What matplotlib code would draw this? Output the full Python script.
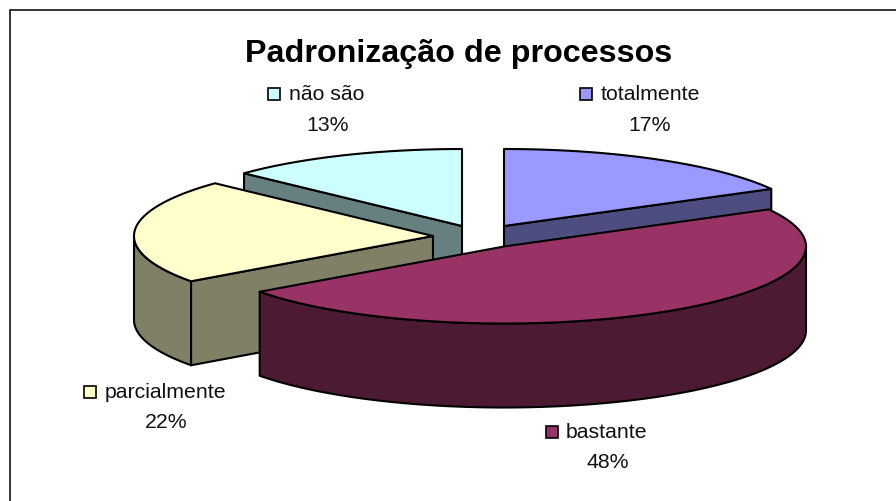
import numpy as np
import matplotlib
matplotlib.use("Agg")
import matplotlib.pyplot as plt
from matplotlib.patches import Polygon, Rectangle

plt.rcParams['font.family'] = ['Liberation Sans', 'DejaVu Sans']

# --- data ---
title = "Padronização de processos"
categories = ["totalmente", "bastante", "parcialmente", "não são"]
percent = [17, 48, 22, 13]

# --- style ---
top_colors = ["#9999FF", "#993366", "#FFFFCC", "#CCFFFF"]
wall_colors = ["#4D4D80", "#4D1A33", "#808066", "#668080"]

# --- layout (pixels) ---
W, H = 896, 501
RX = [305, 302, 299, 299]
RY, DEPTH = 77, 84
apex_x = [504, 504, 433, 462]
apex_y = [226, 246.5, 236, 226]
key_xy = [(580, 88), (546, 426), (84, 386), (268, 88)]
name_xy = [(601, 94), (566, 432), (105, 392.5), (289, 94)]
pct_xy = [(650, 125), (608, 462), (166, 422), (328, 125)]
KEY = 12
LW = 1.5

fig = plt.figure(figsize=(W / 100, H / 100), dpi=100)
ax = fig.add_axes([0, 0, 1, 1])
ax.set_xlim(0, W)
ax.set_ylim(H, 0)
ax.axis("off")

# chart frame (only left and top edges fall inside the picture)
ax.plot([10, 10, W], [H, 10, 10], color="black", lw=1.1, solid_joinstyle="miter", zorder=1)

ax.text(458.5, 53.5, title, ha="center", va="center", fontsize=23.2, fontweight="bold", zorder=20)

# slice angles, clockwise from 12 o'clock
bounds = np.radians(np.concatenate([[0], np.cumsum(percent)]) * 360 / sum(percent))


def rim(i, a):
    return apex_x[i] + RX[i] * np.sin(a), apex_y[i] - RY * np.cos(a)


def arc(i, a0, a1):
    t = np.linspace(a0, a1, 200)
    return np.column_stack(rim(i, t))


def poly(pts, color, z):
    ax.add_patch(Polygon(pts, closed=True, facecolor=color, edgecolor="black",
                         lw=LW, joinstyle="round", zorder=z))


def radial_wall(i, a, z):
    """Flat cut face running from the apex to the rim at angle a."""
    apex = np.array([apex_x[i], apex_y[i]], float)
    end = np.array(rim(i, a))
    down = np.array([0, DEPTH])
    poly([apex, end, end + down, apex + down], wall_colors[i], z)


def outer_wall(i, a0, a1, z):
    """Curved rim wall between two angles."""
    top = arc(i, a0, a1)
    poly(np.vstack([top, (top + [0, DEPTH])[::-1]]), wall_colors[i], z)


def top_face(i, z):
    pts = np.vstack([[[apex_x[i], apex_y[i]]], arc(i, bounds[i], bounds[i + 1])])
    poly(pts, top_colors[i], z)


# back slices first, then front slices
radial_wall(3, bounds[3], 2)
radial_wall(0, bounds[1], 2)
top_face(3, 3)
top_face(0, 3)

outer_wall(2, bounds[2], np.radians(270), 4)
radial_wall(2, bounds[2], 5)
top_face(2, 6)

outer_wall(1, np.radians(90), bounds[2], 7)
top_face(1, 8)

# labels
for i, name in enumerate(categories):
    ax.add_patch(Rectangle(key_xy[i], KEY, KEY, facecolor=top_colors[i], edgecolor="black",
                           lw=1.2, zorder=20))
    ax.text(*name_xy[i], name, ha="left", va="center", fontsize=15.3, color="#111111", zorder=20)
    ax.text(*pct_xy[i], f"{percent[i]}%", ha="center", va="center", fontsize=15.3,
            color="#111111", zorder=20)

fig.savefig("out.png", dpi=100)
